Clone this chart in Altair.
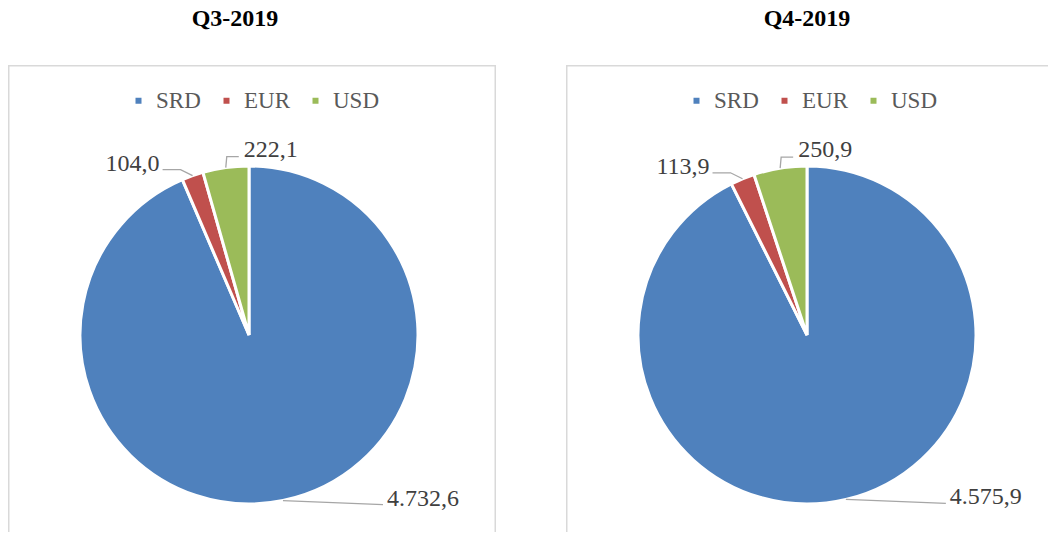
import math
import altair as alt
import pandas as pd

# ---- data ----
quarters = ["Q3-2019", "Q4-2019"]
currencies = ["SRD", "EUR", "USD"]
q3_values = [4732.6, 104.0, 222.1]
q4_values = [4575.9, 113.9, 250.9]
colors = ["#4F81BD", "#C0504D", "#9BBB59"]

# ---- layout (pixels inside each panel) ----
PANEL_H = 467
CX, CY, R = 241, 270, 169
LABEL_LAYOUT = {
    "SRD": {"path": [(100, 4)], "label": (104, -2), "align": "left"},
    "EUR": {"path": [(-12, -6), (-30, -6)], "label": (-33, -12), "align": "right"},
    "USD": {"path": [(1, -11), (13, -11)], "label": (18, -18), "align": "left"},
}
SERIF = "Liberation Serif"
BOX = "#D9D9D9"


def fmt(v):
    s = f"{v:,.1f}"
    return s.replace(",", "X").replace(".", ",").replace("X", ".")


def panel(title, values, width, box_right, title_dx):
    total = sum(values)
    arcs = pd.DataFrame({"currency": currencies, "value": values, "ord": list(range(len(values)))})
    lines, labels = [], []
    cum = 0.0
    for c, v in zip(currencies, values):
        mid = 2 * math.pi * (cum + v / 2) / total
        cum += v
        sx = CX + R * math.sin(mid)
        sy = CY - R * math.cos(mid)
        lay = LABEL_LAYOUT[c]
        pts = [(sx, sy)] + [(sx + dx, sy + dy) for dx, dy in lay["path"]]
        for i, (px, py) in enumerate(pts):
            lines.append({"currency": c, "seq": i, "px": px, "py": py})
        labels.append({"currency": c, "text": fmt(v),
                       "lx": sx + lay["label"][0], "ly": sy + lay["label"][1],
                       "align": lay["align"]})
    lines_df = pd.DataFrame(lines)
    labels_df = pd.DataFrame(labels)

    # chart-area frame (clipped to the view so only visible sides show)
    frame = alt.Chart(alt.Data(values=[{"k": 1}])).mark_rect(
        fillOpacity=0, stroke=BOX, strokeWidth=1.5, clip=True
    ).encode(
        x=alt.value(0.75), x2=alt.value(box_right),
        y=alt.value(0.75), y2=alt.value(PANEL_H + 40),
    )

    pie = alt.Chart(arcs).mark_arc(outerRadius=R, stroke="white", strokeWidth=3).encode(
        theta=alt.Theta("value:Q", stack=True),
        color=alt.Color(
            "currency:N",
            scale=alt.Scale(domain=currencies, range=colors),
            legend=alt.Legend(
                orient="none", legendX=119, legendY=24, direction="horizontal",
                title=None, symbolType="square", symbolSize=36, symbolStrokeWidth=0,
                labelFont=SERIF, labelFontSize=23, labelColor="#595959",
                labelOffset=6, columnPadding=14, padding=0,
            ),
        ),
        order=alt.Order("ord:Q"),
        x=alt.value(CX),
        y=alt.value(CY),
    )

    leader = alt.Chart(lines_df).mark_line(color="#A6A6A6", strokeWidth=1.3).encode(
        x=alt.X("px:Q", scale=None, axis=None),
        y=alt.Y("py:Q", scale=None, axis=None),
        detail="currency:N",
        order="seq:Q",
    )

    def text_layer(align):
        return alt.Chart(labels_df).transform_filter(
            alt.datum.align == align
        ).mark_text(
            align=align, baseline="middle", font=SERIF, fontSize=24, color="#404040"
        ).encode(
            x=alt.X("lx:Q", scale=None, axis=None),
            y=alt.Y("ly:Q", scale=None, axis=None),
            text="text:N",
        )

    return alt.layer(frame, pie, leader, text_layer("left"), text_layer("right")).properties(
        width=width,
        height=PANEL_H,
        title=alt.Title(title, font=SERIF, fontSize=24, fontWeight="bold",
                        color="#000000", offset=34, anchor="middle", dx=title_dx),
    )


chart = alt.hconcat(
    panel(quarters[0], q3_values, 488, 487.25, -17),
    panel(quarters[1], q4_values, 482, 530, 0),
).resolve_legend(color="independent").resolve_scale(x="independent", y="independent").configure_view(
    stroke=None
).configure_concat(spacing=70).properties(
    padding={"left": 8, "top": 7, "right": 0, "bottom": 0},
    background="white",
)

chart.save("out.html", embed_options={"renderer": "svg", "actions": False})
